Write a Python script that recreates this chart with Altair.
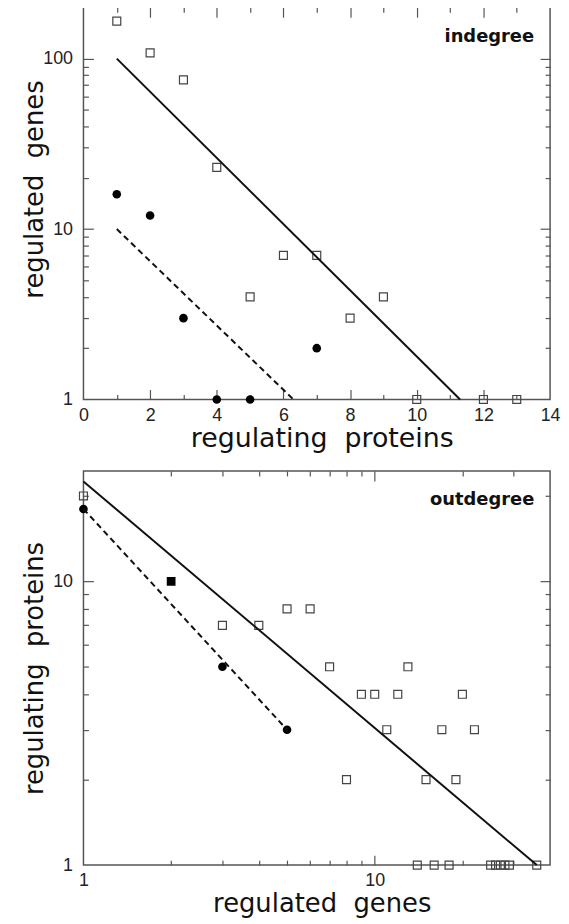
import altair as alt
import pandas as pd

# ---------------- data: top panel (indegree) ----------------
top_open_x = [1, 2, 3, 4, 5, 6, 7, 8, 9, 10, 12, 13]
top_open_y = [166, 108, 75, 23, 4, 7, 7, 3, 4, 1, 1, 1]
top_filled_x = [1, 2, 3, 4, 5, 7]
top_filled_y = [16, 12, 3, 1, 1, 2]
top_fit_x = [1, 11.3]
top_fit_y = [100, 1]
top_dash_x = [1, 6.3]
top_dash_y = [10, 1]
top_label = ["indegree"]
top_label_x = [13.52]
top_label_y = [125]

# ---------------- data: bottom panel (outdegree) ----------------
bot_open_x = [1, 3, 4, 5, 6, 7, 13, 9, 10, 12, 20, 11, 17, 22, 8, 15, 19,
              14, 16, 18, 25, 26, 27, 28, 29, 36]
bot_open_y = [20, 7, 7, 8, 8, 5, 5, 4, 4, 4, 4, 3, 3, 3, 2, 2, 2,
              1, 1, 1, 1, 1, 1, 1, 1, 1]
bot_fsq_x = [2]
bot_fsq_y = [10]
bot_filled_x = [1, 3, 5]
bot_filled_y = [18, 5, 3]
bot_fit_x = [1, 36]
bot_fit_y = [22.5, 1]
bot_dash_x = [1, 5]
bot_dash_y = [18, 3]
bot_label = ["outdegree"]
bot_label_x = [35.3]
bot_label_y = [18.6]

# tick values
top_x_labels = [0, 2, 4, 6, 8, 10, 12, 14]
top_x_major = [2, 4, 6, 8, 10, 12]
top_x_minor = [1, 3, 5, 7, 9, 11, 13]
top_y_labels = [1, 10, 100]
top_y_major = [10, 100]
top_y_minor = [2, 3, 4, 5, 6, 7, 8, 9, 20, 30, 40, 50, 60, 70, 80, 90]
bot_x_labels = [1, 10]
bot_x_major = [10]
bot_x_minor = [2, 3, 4, 5, 6, 7, 8, 9, 20, 30]
bot_y_labels = [1, 10]
bot_y_major = [10]
bot_y_minor = [2, 3, 4, 5, 6, 7, 8, 9, 20]

W = 470
H_TOP = 395
H_BOT = 397
MAJOR = 10
MINOR = 5

LABEL_FONT = "Liberation Sans"
TITLE_FONT = "DejaVu Sans"
TICK_COLOR = "#555"


def df(xs, ys):
    return pd.DataFrame({"x": xs, "y": ys})


def x_label_axis(values, title, title_size, title_y, label_pad):
    return alt.Axis(
        orient="bottom", values=values, ticks=False, domain=False, grid=False,
        labelFont=LABEL_FONT, labelFontSize=18, labelColor="#222",
        labelOverlap=False, labelFlush=False, labelPadding=label_pad,
        format="d",
        title=title, titleFont=TITLE_FONT, titleFontSize=title_size,
        titleFontWeight="normal", titleColor="#111",
        titleY=title_y, titleX=W / 2 + 5,
    )


def y_label_axis(values, title, title_y):
    return alt.Axis(
        orient="left", values=values, ticks=False, domain=False, grid=False,
        labelFont=LABEL_FONT, labelFontSize=18, labelColor="#222",
        labelOverlap=False, labelFlush=False, labelPadding=11,
        format="d",
        title=title, titleFont=TITLE_FONT, titleFontSize=26,
        titleFontWeight="normal", titleColor="#111",
        titleX=-36, titleY=title_y,
    )


def tick_axis(orient, values, size, offset):
    return alt.Axis(
        orient=orient, values=values, labels=False, domain=False, grid=False,
        title=None, offset=offset, tickSize=size,
        tickColor=TICK_COLOR, tickWidth=1.2, minExtent=0,
    )


def panel(xscale, yscale, H, ax_x, ax_y, xmaj, xmin, ymaj, ymin,
          open_d, filled_d, fit_d, dash_d, lab_d, extra=None):
    def enc(xaxis, yaxis):
        return dict(
            x=alt.X("x:Q", scale=xscale, axis=xaxis),
            y=alt.Y("y:Q", scale=yscale, axis=yaxis),
        )

    opens = alt.Chart(open_d).mark_point(
        shape="square", filled=False, size=64, stroke="#444", strokeWidth=1.2,
        opacity=1,
    ).encode(**enc(ax_x, ax_y))
    # inside ticks, major: bottom/left edges
    filled = alt.Chart(filled_d).mark_point(
        shape="circle", filled=True, size=75, color="#000", opacity=1,
    ).encode(**enc(tick_axis("top", xmaj, MAJOR, -H),
                   tick_axis("right", ymaj, MAJOR, -W)))
    # inside ticks, major: top/right edges
    fit = alt.Chart(fit_d).mark_line(color="#111", strokeWidth=2).encode(
        **enc(tick_axis("bottom", xmaj, MAJOR, -H),
              tick_axis("left", ymaj, MAJOR, -W)))
    # inside ticks, minor: bottom/left edges
    dash = alt.Chart(dash_d).mark_line(
        color="#111", strokeWidth=2, strokeDash=[6, 4]
    ).encode(**enc(tick_axis("top", xmin, MINOR, -H),
                   tick_axis("right", ymin, MINOR, -W)))
    # inside ticks, minor: top/right edges
    text = alt.Chart(lab_d).mark_text(
        font=TITLE_FONT, fontWeight="bold", fontSize=18, align="right",
        baseline="alphabetic", color="#111",
    ).encode(text="t:N",
             **enc(tick_axis("bottom", xmin, MINOR, -H),
                   tick_axis("left", ymin, MINOR, -W)))
    layers = [opens, filled, fit, dash, text]
    if extra is not None:
        layers.append(
            alt.Chart(extra).mark_point(
                shape="square", filled=True, size=78, color="#000", opacity=1,
            ).encode(**enc(None, None))
        )
    return alt.layer(*layers).resolve_axis(
        x="independent", y="independent"
    ).properties(width=W, height=H)


top = panel(
    alt.Scale(domain=[0, 14], nice=False, zero=False),
    alt.Scale(type="log", domain=[1, 200], nice=False),
    H_TOP,
    x_label_axis(top_x_labels, "regulating\u00a0 proteins", 27, 26.5, 7),
    y_label_axis(top_y_labels, "regulated\u00a0 genes", 183),
    top_x_major, top_x_minor, top_y_major, top_y_minor,
    df(top_open_x, top_open_y), df(top_filled_x, top_filled_y),
    df(top_fit_x, top_fit_y), df(top_dash_x, top_dash_y),
    pd.DataFrame({"x": top_label_x, "y": top_label_y, "t": top_label}),
)

bottom = panel(
    alt.Scale(type="log", domain=[1, 40], nice=False),
    alt.Scale(type="log", domain=[1, 24.5], nice=False),
    H_BOT,
    x_label_axis(bot_x_labels, "regulated\u00a0 genes", 26, 26, 7),
    y_label_axis(bot_y_labels, "regulating\u00a0 proteins", H_BOT / 2),
    bot_x_major, bot_x_minor, bot_y_major, bot_y_minor,
    df(bot_open_x, bot_open_y), df(bot_filled_x, bot_filled_y),
    df(bot_fit_x, bot_fit_y), df(bot_dash_x, bot_dash_y),
    pd.DataFrame({"x": bot_label_x, "y": bot_label_y, "t": bot_label}),
    extra=df(bot_fsq_x, bot_fsq_y),
)

chart = alt.vconcat(top, bottom, spacing=16).properties(
    padding={"left": 13, "top": -6, "right": 0, "bottom": 0},
    background="white",
).configure_view(stroke="#555", strokeWidth=1.5)

chart.save("out.html", embed_options={"renderer": "svg", "actions": False})
